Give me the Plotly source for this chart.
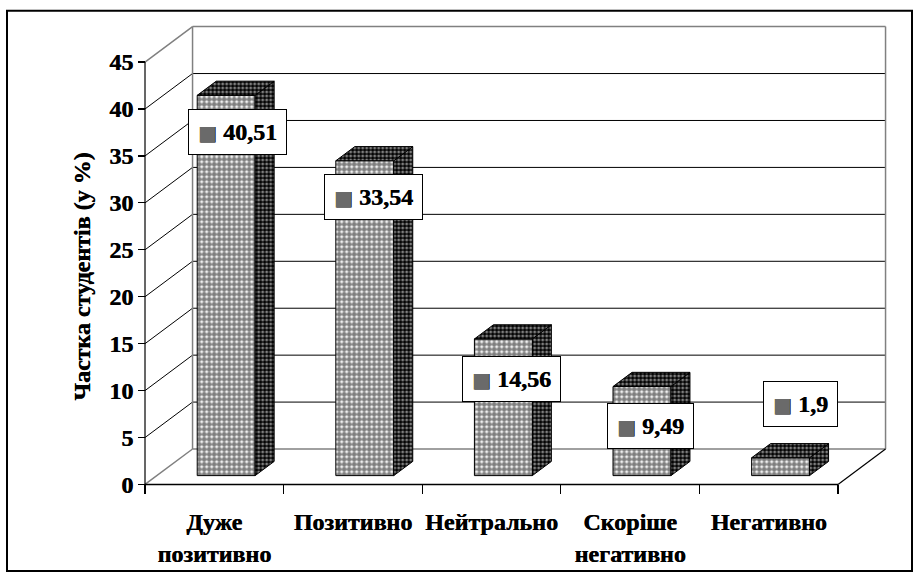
import plotly.graph_objects as go

# ---------------- data ----------------
categories = ["Дуже<br>позитивно", "Позитивно", "Нейтрально", "Скоріше<br>негативно", "Негативно"]
values = [40.51, 33.54, 14.56, 9.49, 1.9]
value_labels = ["40,51", "33,54", "14,56", "9,49", "1,9"]
y_ticks = [0, 5, 10, 15, 20, 25, 30, 35, 40, 45]
y_title = "Частка студентів (у %)"

# ---------------- geometry (layout only) ----------------
W, H = 920, 588
FONT = "Liberation Serif"
FS = 24
SHADOW = "0.5px 0px 0px black"
PXX = 138.6            # pixels per category
PXY = 9.533            # pixels per percent
X0_PX, Y0_PX = 145, 492  # front-left-bottom corner of the 3D box
DX, DY = 0.343, 3.776    # depth offset in data units
F0, FD, BW = 0.25, 0.40, 0.418   # bar front depth, bar depth, bar width
N = len(values)
YMAX = y_ticks[-1]
LABEL_DX = [0.164, 0.152, 0.144, 0.144, 0.233]
LABEL_DY = [-3.0, -2.9, -3.3, -3.3, 6.65]

xr = [-0.56, N - 0.5 + DX + 0.06]
yr = [-0.5, YMAX + DY + 0.5]


def xpx(v):
    return X0_PX + (v + 0.5) * PXX


def ypx(v):
    return Y0_PX - v * PXY


xdom = [xpx(xr[0]) / W, xpx(xr[1]) / W]
ydom = [(H - ypx(yr[0])) / H, (H - ypx(yr[1])) / H]

GRAY = "#808080"
shapes = []


def line(x0, y0, x1, y1, color="black", width=1, layer="below"):
    shapes.append(dict(type="line", xref="x", yref="y", x0=x0, y0=y0, x1=x1, y1=y1,
                       line=dict(color=color, width=width), layer=layer))


# back wall grid + side wall grid
for v in y_ticks:
    edge = v in (0, YMAX)
    col = GRAY if edge else "black"
    line(-0.5 + DX, v + DY, N - 0.5 + DX, v + DY, col, 1.5 if edge else 1)
    line(-0.5, v, -0.5 + DX, v + DY, col, 1.5 if edge else 1)
# back wall verticals
line(-0.5 + DX, DY, -0.5 + DX, YMAX + DY, GRAY, 1.5)
line(N - 0.5 + DX, DY, N - 0.5 + DX, YMAX + DY, GRAY, 1.5)
# front vertical axis, floor front edge and floor right edge
line(-0.5, 0, -0.5, YMAX, "black", 1.2)
line(-0.5, 0, N - 0.5, 0, "black", 1.5)
line(N - 0.5, 0, N - 0.5 + DX, DY, "black", 1.2)

# outer frame
shapes.append(dict(type="rect", xref="paper", yref="paper",
                   x0=7 / W, x1=912 / W, y0=(H - 580) / H, y1=(H - 11) / H,
                   line=dict(color="black", width=2), layer="above"))

fig = go.Figure()

# front faces of bars
xs = [i + F0 * DX for i in range(N)]
fig.add_trace(go.Bar(
    x=xs, y=values, base=[F0 * DY] * N, width=BW,
    marker=dict(color="white", line=dict(color="black", width=1),
                pattern=dict(shape=".", size=5, solidity=0.75, fgcolor="black", bgcolor="white")),
    hoverinfo="skip", showlegend=False))

# side and top faces
sx, sy, tx, ty = [], [], [], []
b = F0 * DY
ddx, ddy = FD * DX, FD * DY
for xc, v in zip(xs, values):
    xl, xr_ = xc - BW / 2, xc + BW / 2
    sx += [xr_, xr_ + ddx, xr_ + ddx, xr_, xr_, None]
    sy += [b, b + ddy, b + v + ddy, b + v, b, None]
    tx += [xl, xl + ddx, xr_ + ddx, xr_, xl, None]
    ty += [b + v, b + v + ddy, b + v + ddy, b + v, b + v, None]

dense = dict(shape=".", size=4, solidity=0.45, fgcolor="white", bgcolor="black")
fig.add_trace(go.Scatter(x=sx, y=sy, mode="lines", fill="toself", fillcolor="black",
                         fillpattern=dense, line=dict(color="black", width=1),
                         hoverinfo="skip", showlegend=False))
fig.add_trace(go.Scatter(x=tx, y=ty, mode="lines", fill="toself", fillcolor="black",
                         fillpattern=dense, line=dict(color="black", width=1),
                         hoverinfo="skip", showlegend=False))

# data labels
annotations = []
for i, (v, t) in enumerate(zip(values, value_labels)):
    annotations.append(dict(
        x=i + LABEL_DX[i], y=v + LABEL_DY[i], xref="x", yref="y",
        xanchor="center", yanchor="middle",
        text="<span style=\"font-family:'DejaVu Sans';font-size:20px;fill:#6a6a6a\">■</span> " + t,
        showarrow=False, bgcolor="white", bordercolor="black", borderwidth=1, borderpad=9,
        font=dict(family=FONT, size=FS, color="black", weight="bold", shadow=SHADOW)))

annotations.append(dict(
    x=82 / W, y=(H - 281) / H, xref="paper", yref="paper", text=y_title, textangle=-90,
    xanchor="center", yanchor="middle",
    showarrow=False, font=dict(family=FONT, size=FS, color="black", weight="bold", shadow=SHADOW)))

tickfont = dict(family=FONT, size=FS, color="black", weight="bold", shadow=SHADOW)

fig.update_layout(
    width=W, height=H, margin=dict(l=0, r=0, t=0, b=0),
    paper_bgcolor="white", plot_bgcolor="rgba(0,0,0,0)",
    shapes=shapes, annotations=annotations, bargap=0,
    xaxis=dict(domain=xdom, range=xr, anchor="free", position=(H - Y0_PX) / H,
               tickmode="array", tickvals=list(range(N)), ticktext=categories,
               ticks="", showgrid=False, zeroline=False, showline=False,
               ticklabelstandoff=21, tickfont=tickfont,
               minor=dict(tickmode="array", tickvals=[i - 0.5 for i in range(N + 1)],
                          ticks="outside", ticklen=9, tickwidth=1.2, tickcolor="black",
                          showgrid=False)),
    yaxis=dict(domain=ydom, range=yr, anchor="free", position=X0_PX / W,
               tickmode="array", tickvals=y_ticks, ticks="outside", ticklen=7,
               tickwidth=1.2, tickcolor="black", showgrid=False, zeroline=False,
               showline=False, tickfont=tickfont),
)

fig.write_html(
    "out.html",
    config={"displayModeBar": False, "staticPlot": True},
    post_script="document.body.style.margin='0';document.body.style.overflow='hidden';",
)
